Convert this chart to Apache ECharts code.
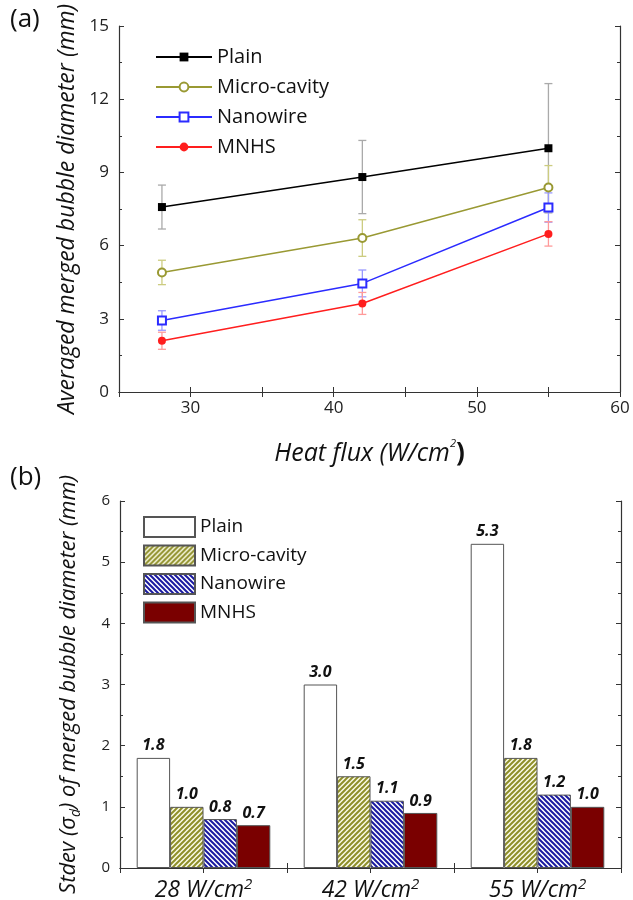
<!DOCTYPE html>
<html><head><meta charset="utf-8">
<script src="https://cdn.jsdelivr.net/npm/echarts@6/dist/echarts.min.js"></script>
<style>html,body{margin:0;padding:0;background:#fff}#c{width:633px;height:900px}</style>
</head><body><div id="c"></div>
<script>
// ---- data ----
const heatFlux = [28, 42, 55];
const plainMean = [7.58, 8.81, 9.99];
const microMean = [4.90, 6.31, 8.38];
const nanoMean = [2.93, 4.45, 7.56];
const mnhsMean = [2.10, 3.63, 6.48];
const plainErr = [0.9, 1.5, 2.65];
const microErr = [0.5, 0.75, 0.9];
const nanoErr = [0.4, 0.55, 0.6];
const mnhsErr = [0.35, 0.45, 0.5];
const barCategories = ['28', '42', '55'];
const plainStdev = [1.8, 3.0, 5.3];
const microStdev = [1.0, 1.5, 1.8];
const nanoStdev = [0.8, 1.1, 1.2];
const mnhsStdev = [0.7, 0.9, 1.0];
const names = ['Plain', 'Micro-cavity', 'Nanowire', 'MNHS'];

const F = "'Open Sans', 'Noto Sans', sans-serif";
const AX = '#333';

function stripes(fg, bg, dir) {
  const s = 5, c = document.createElement('canvas');
  c.width = s; c.height = s;
  const g = c.getContext('2d');
  g.fillStyle = bg; g.fillRect(0, 0, s, s);
  g.strokeStyle = fg; g.lineWidth = 2; g.beginPath();
  if (dir > 0) {
    g.moveTo(0, s); g.lineTo(s, 0); g.moveTo(-1, 1); g.lineTo(1, -1); g.moveTo(s - 1, s + 1); g.lineTo(s + 1, s - 1);
  } else {
    g.moveTo(0, 0); g.lineTo(s, s); g.moveTo(-1, s - 1); g.lineTo(1, s + 1); g.moveTo(s - 1, -1); g.lineTo(s + 1, 1);
  }
  g.stroke();
  return { image: c, repeat: 'repeat' };
}

const lineCfg = [
  { name: names[0], mean: plainMean, err: plainErr, color: '#000000', errColor: '#aaaaaa', symbol: 'rect' },
  { name: names[1], mean: microMean, err: microErr, color: '#999933', errColor: '#cccc80', symbol: 'emptyCircle' },
  { name: names[2], mean: nanoMean, err: nanoErr, color: '#2b2bff', errColor: '#9a9aff', symbol: 'emptyRect' },
  { name: names[3], mean: mnhsMean, err: mnhsErr, color: '#ff1e1e', errColor: '#ff9a9a', symbol: 'circle' }
];

const series = [];
lineCfg.forEach(c => {
  series.push({
    type: 'custom', name: c.name + ' err', xAxisIndex: 0, yAxisIndex: 0, silent: true, z: 2,
    data: heatFlux.map((x, i) => [x, c.mean[i], c.err[i]]),
    renderItem: (params, api) => {
      const x = api.value(0), y = api.value(1), e = api.value(2);
      const hi = api.coord([x, y + e]), lo = api.coord([x, y - e]);
      const w = 4, st = { stroke: c.errColor, lineWidth: 1.3 };
      return { type: 'group', children: [
        { type: 'line', shape: { x1: hi[0], y1: hi[1], x2: lo[0], y2: lo[1] }, style: st },
        { type: 'line', shape: { x1: hi[0] - w, y1: hi[1], x2: hi[0] + w, y2: hi[1] }, style: st },
        { type: 'line', shape: { x1: lo[0] - w, y1: lo[1], x2: lo[0] + w, y2: lo[1] }, style: st }
      ] };
    }
  });
});
lineCfg.forEach(c => {
  series.push({
    type: 'line', name: c.name, xAxisIndex: 0, yAxisIndex: 0, z: 3,
    data: heatFlux.map((x, i) => [x, c.mean[i]]),
    symbol: c.symbol, symbolSize: 8, showAllSymbol: true,
    color: c.color, itemStyle: { color: c.color },
    lineStyle: { color: c.color, width: 1.5 }
  });
});

const barCfg = [
  { name: 'Plain ', data: plainStdev, color: '#ffffff' },
  { name: 'Micro-cavity ', data: microStdev, color: stripes('#8f8f2a', '#fbfbe6', 1) },
  { name: 'Nanowire ', data: nanoStdev, color: stripes('#1a1aa0', '#ffffff', -1) },
  { name: 'MNHS ', data: mnhsStdev, color: '#7a0000' }
];
barCfg.forEach(b => {
  series.push({
    type: 'bar', name: b.name, xAxisIndex: 2, yAxisIndex: 2,
    data: b.data, barGap: '0%', barCategoryGap: '20%',
    itemStyle: { color: b.color, borderColor: '#555', borderWidth: 1 },
    label: { show: true, position: 'top', distance: 4, formatter: p => p.value.toFixed(1),
      fontStyle: 'italic', fontWeight: 'bold', fontSize: 16, color: '#111', fontFamily: F }
  });
});

const tick = { show: true, inside: true, length: 5, lineStyle: { color: AX, width: 1 } };
const minor = { show: true, splitNumber: 2, length: 3, lineStyle: { color: AX, width: 1 } };
const line = { show: true, lineStyle: { color: AX, width: 1.2 } };

const option = {
  backgroundColor: '#fff',
  animation: false,
  grid: [
    { left: 119, top: 26, width: 501, height: 366, outerBoundsMode: 'none', containLabel: false },
    { left: 120, top: 501, width: 501, height: 367, outerBoundsMode: 'none', containLabel: false }
  ],
  xAxis: [
    { gridIndex: 0, type: 'value', min: 25, max: 60, interval: 5, position: 'bottom',
      axisLine: line, axisTick: tick, splitLine: { show: false },
      axisLabel: { formatter: v => (v % 10 === 0 ? String(v) : ''), fontSize: 17, color: '#222', margin: 8, fontFamily: F },
      name: '{t|Heat flux (W/cm}{s|2}{b|)}', nameLocation: 'middle', nameGap: 46,
      nameTextStyle: { rich: {
        t: { fontSize: 25, fontStyle: 'italic', fontFamily: F, color: '#111', lineHeight: 32 },
        s: { fontSize: 11, fontStyle: 'italic', fontFamily: F, color: '#111', verticalAlign: 'top', lineHeight: 11 },
        b: { fontSize: 26, fontWeight: 'bold', fontFamily: F, color: '#111', lineHeight: 32 }
      } } },
    { gridIndex: 0, type: 'value', min: 25, max: 60, interval: 5, position: 'top',
      axisLine: line, axisTick: tick, axisLabel: { show: false }, splitLine: { show: false } },
    { gridIndex: 1, type: 'category', data: barCategories, position: 'bottom',
      axisLine: line, axisTick: { show: true, inside: true, length: 5, lineStyle: { color: AX } },
      axisLabel: { formatter: v => '{a|' + v + ' W/cm}{s|2}', margin: 9, rich: {
        a: { fontSize: 23, fontStyle: 'italic', fontFamily: F, color: '#111', lineHeight: 26 },
        s: { fontSize: 15, fontStyle: 'italic', fontFamily: F, color: '#111', verticalAlign: 'top', lineHeight: 15 }
      } } },
    { gridIndex: 1, type: 'value', min: 0, max: 6, interval: 1, position: 'top',
      axisLine: line, axisTick: tick, axisLabel: { show: false }, splitLine: { show: false } }
  ],
  yAxis: [
    { gridIndex: 0, type: 'value', min: 0, max: 15, interval: 3, position: 'left',
      axisLine: line, axisTick: tick, minorTick: minor, splitLine: { show: false },
      axisLabel: { fontSize: 17, color: '#222', margin: 10, fontFamily: F },
      name: 'Averaged merged bubble diameter (mm)', nameLocation: 'middle', nameRotate: 90, nameGap: 38,
      nameTextStyle: { fontSize: 23, fontStyle: 'italic', fontFamily: F, color: '#111' } },
    { gridIndex: 0, type: 'value', min: 0, max: 15, interval: 3, position: 'right',
      axisLine: line, axisTick: tick, minorTick: minor, splitLine: { show: false }, axisLabel: { show: false } },
    { gridIndex: 1, type: 'value', min: 0, max: 6, interval: 1, position: 'left',
      axisLine: line, axisTick: tick, minorTick: minor, splitLine: { show: false },
      axisLabel: { fontSize: 15, color: '#222', margin: 10, fontFamily: F },
      name: '{t|Stdev (σ}{d|d}{t|) of merged bubble diameter (mm)}', nameLocation: 'middle', nameRotate: 90, nameGap: 37,
      nameTextStyle: { rich: {
        t: { fontSize: 22, fontStyle: 'italic', fontFamily: F, color: '#111', lineHeight: 28 },
        d: { fontSize: 14, fontStyle: 'italic', fontFamily: F, color: '#111', verticalAlign: 'bottom', lineHeight: 14 }
      } } },
    { gridIndex: 1, type: 'value', min: 0, max: 6, interval: 1, position: 'right',
      axisLine: line, axisTick: tick, minorTick: minor, splitLine: { show: false }, axisLabel: { show: false } }
  ],
  legend: [
    { data: names, orient: 'vertical', left: 150, top: 42, itemWidth: 56, itemHeight: 11, itemGap: 10,
      selectedMode: false, textStyle: { fontSize: 20, fontFamily: F, color: '#111' } },
    { data: barCfg.map(b => b.name), orient: 'vertical', left: 138, top: 511, itemWidth: 51, itemHeight: 20, itemGap: 6.5,
      icon: 'rect', selectedMode: false, formatter: n => n.trim(),
      textStyle: { fontSize: 19, fontFamily: F, color: '#111' } }
  ],
  graphic: [
    { type: 'text', left: 10, top: 7, style: { text: '(a)', font: '26px ' + F, fill: '#111' } },
    { type: 'text', left: 10, top: 465, style: { text: '(b)', font: '26px ' + F, fill: '#111' } }
  ],
  series: series
};

const chart = echarts.init(document.getElementById('c'), null, { renderer: 'canvas' });
chart.setOption(option);
</script>
</body></html>
